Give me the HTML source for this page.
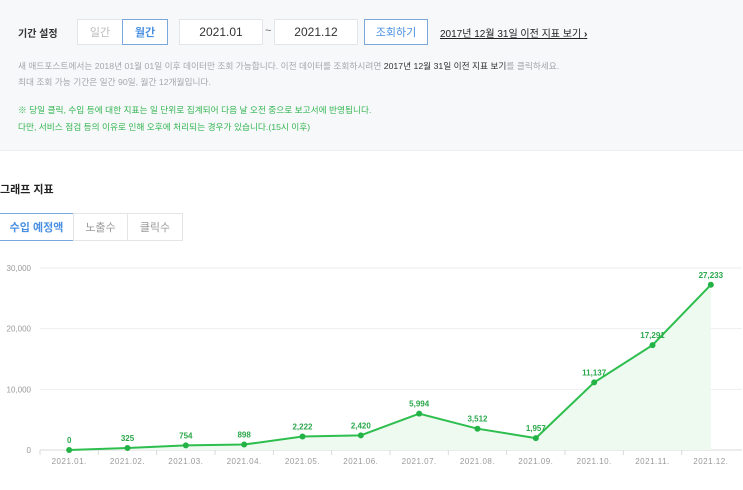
<!DOCTYPE html>
<html><head><meta charset="utf-8"><style>
body{margin:0;width:743px;height:490px;overflow:hidden;background:#fff;font-family:"Liberation Sans","Noto Sans CJK KR",sans-serif;position:relative}
.top{position:absolute;left:0;top:0;width:743px;height:150px;background:#f7f8fa;border-bottom:1px solid #eceef1}
.a{position:absolute;white-space:nowrap}
.box{position:absolute;background:#fff;border:1px solid #e3e5e8;box-sizing:border-box;font-size:12px;color:#333;display:flex;align-items:center;justify-content:center}
.note{font-size:8.7px;color:#a3a6ab}
.green{font-size:8.7px;color:#35b653}
</style></head><body>
<div class="top"></div>
<div class="a" style="left:18px;top:25px;font-size:10px;font-weight:bold;color:#333">기간 설정</div>
<div class="box" style="left:77px;top:19px;width:46px;height:26px;color:#bbb;font-size:11px">일간</div>
<div class="box" style="left:122px;top:19px;width:46px;height:26px;color:#4a90e2;border-color:#7aa7dc;font-size:11px;font-weight:bold">월간</div>
<div class="box" style="left:179px;top:19px;width:84px;height:26px">2021.01</div>
<div class="a" style="left:265px;top:25px;font-size:11px;color:#666">~</div>
<div class="box" style="left:274px;top:19px;width:84px;height:26px">2021.12</div>
<div class="box" style="left:364px;top:19px;width:64px;height:26px;color:#4a90e2;border-color:#7aa7dc;font-size:11px">조회하기</div>
<div class="a" style="left:440px;top:25px;font-size:10px;color:#222;text-decoration:underline">2017년 12월 31일 이전 지표 보기 <b style="text-decoration:none">›</b></div>
<div class="a note" style="left:18px;top:59px">새 애드포스트에서는 2018년 01월 01일 이후 데이터만 조회 가능합니다. 이전 데이터를 조회하시려면 <span style="color:#333">2017년 12월 31일 이전 지표 보기</span>를 클릭하세요.</div>
<div class="a note" style="left:18px;top:75px">최대 조회 가능 기간은 일간 90일, 월간 12개월입니다.</div>
<div class="a green" style="left:18px;top:103px">※ 당일 클릭, 수입 등에 대한 지표는 일 단위로 집계되어 다음 날 오전 중으로 보고서에 반영됩니다.</div>
<div class="a green" style="left:18px;top:120px">다만, 서비스 점검 등의 이유로 인해 오후에 처리되는 경우가 있습니다.(15시 이후)</div>
<div class="a" style="left:0;top:181px;font-size:11px;font-weight:bold;color:#222">그래프 지표</div>
<div class="box" style="left:-1px;top:213px;width:75px;height:28px;color:#4a90e2;border-color:#7aa7dc;font-size:11px;font-weight:bold">수입 예정액</div>
<div class="box" style="left:73px;top:213px;width:55px;height:28px;color:#999;font-size:11px">노출수</div>
<div class="box" style="left:127px;top:213px;width:56px;height:28px;color:#999;font-size:11px">클릭수</div>
<svg id="chart" width="743" height="490" style="position:absolute;left:0;top:0"></svg>
<script>
const categories=["2021.01.","2021.02.","2021.03.","2021.04.","2021.05.","2021.06.","2021.07.","2021.08.","2021.09.","2021.10.","2021.11.","2021.12."];
const revenue=[0,325,754,898,2222,2420,5994,3512,1957,11137,17291,27233];
const yTicks=[0,10000,20000,30000];
const yTickLabels=["0","10,000","20,000","30,000"];
const svg=document.getElementById('chart');
const NS="http://www.w3.org/2000/svg";
const L=40,R=742,Y0=450,Y1=268,YMAX=30000;
const band=(R-2-L)/categories.length;
const x=i=>L+band*(i+0.5);
const y=v=>Y0-(v/YMAX)*(Y0-Y1);
function mk(t,a){const e=document.createElementNS(NS,t);for(const k in a)e.setAttribute(k,a[k]);svg.appendChild(e);return e;}
yTicks.forEach((t,i)=>{
  const g=mk('line',{x1:L,x2:R,y1:y(t),y2:y(t),stroke:i===0?'#d8dadd':'#eceef0','stroke-width':1});
  
  
  const tx=mk('text',{x:31,y:y(t)+3,'text-anchor':'end','font-size':8,fill:'#999','font-family':'Liberation Sans'});
  tx.textContent=yTickLabels[i];
  
  
});
categories.forEach((c,i)=>{
  const t=mk('line',{x1:L+band*i,x2:L+band*i,y1:Y0,y2:Y0+5,stroke:'#d8dadd'});
  
  
  const tx=mk('text',{x:x(i),y:464,'text-anchor':'middle','font-size':8,fill:'#999','font-family':'Liberation Sans','letter-spacing':'0.5'});
  tx.textContent=c;
  
  
});
let d='M'+x(0)+','+Y0;revenue.forEach((v,i)=>d+=' L'+x(i)+','+y(v));d+=' L'+x(revenue.length-1)+','+Y0+' Z';
const area=mk('path',{d:d,fill:'#eefaf0'});


const line=mk('polyline',{points:revenue.map((v,i)=>x(i)+','+y(v)).join(' '),fill:'none',stroke:'#2dbe4e','stroke-width':2});


revenue.forEach((v,i)=>{
  const p=mk('circle',{cx:x(i),cy:y(v),r:3,fill:'#22b246'});
  
  
  const t=mk('text',{x:x(i),y:y(v)-7,'text-anchor':'middle','font-size':8,fill:'#2aa84a','font-weight':'bold','font-family':'Liberation Sans'});
  t.textContent=v.toLocaleString('en-US');
  
  
});
</script>
</body></html>
